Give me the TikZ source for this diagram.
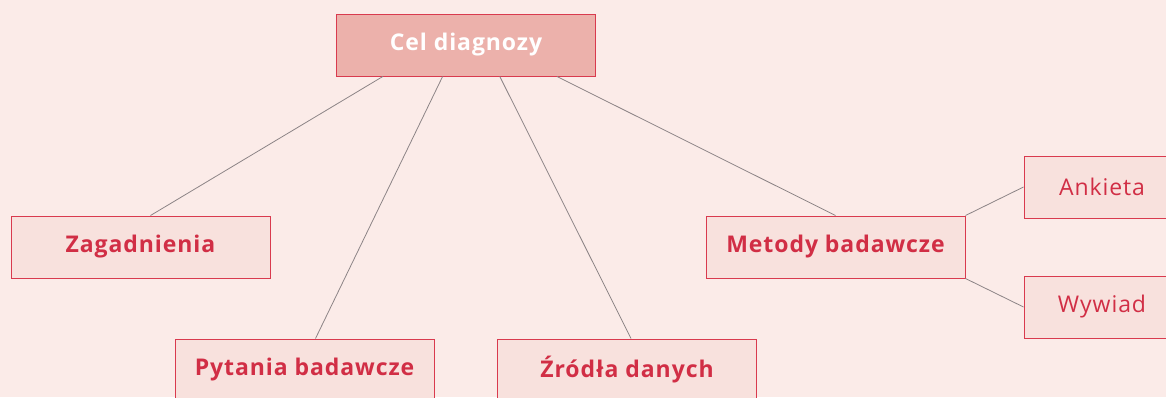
\documentclass[tikz,border=0pt]{standalone}
\usepackage{fontspec}
\setmainfont{Open Sans}[LetterSpace=4]
\usetikzlibrary{calc}
\definecolor{bgpink}{HTML}{FBEBE8}
\definecolor{boxfill}{HTML}{F8E1DD}
\definecolor{rootfill}{HTML}{ECB1AB}
\definecolor{edgered}{HTML}{D93A4E}
\definecolor{textred}{HTML}{D12E45}
\definecolor{linkgray}{HTML}{8C8486}
\begin{document}
\begin{tikzpicture}[x=1pt,y=-1pt,
        box/.style={draw=edgered,fill=boxfill,line width=1pt,minimum width=259pt,minimum height=62pt,
            text=textred,font=\fontsize{23}{26}\selectfont\bfseries,inner sep=0pt},
        rootbox/.style={box,fill=rootfill,text=white},
        leaf/.style={box,minimum width=156pt,font=\fontsize{23}{26}\selectfont},
        link/.style={draw=linkgray,line width=0.8pt}]
    \fill[bgpink] (0,0) rectangle (1166,397);
    \clip (0,0) rectangle (1166,397);
    \node[rootbox] (cel) at (466,45) {Cel diagnozy};
    \node[box] (zag) at (140.5,247) {Zagadnienia};
    \node[box] (pyt) at (304.5,370) {Pytania badawcze};
    \node[box] (zrd) at (627,370) {Źródła danych};
    \node[box] (met) at (835.5,247) {Metody badawcze};
    \node[leaf] (ank) at (1102,187) {Ankieta};
    \node[leaf] (wyw) at (1102,307) {Wywiad};
    % lines from the main goal
    \draw[link] ($(cel.south west)!0.18!(cel.south east)$) -- ([xshift=10pt]zag.north);
    \draw[link] ($(cel.south west)!0.41!(cel.south east)$) -- ([xshift=11pt]pyt.north);
    \draw[link] ($(cel.south west)!0.63!(cel.south east)$) -- ([xshift=4pt]zrd.north);
    \draw[link] ($(cel.south west)!0.85!(cel.south east)$) -- (met.north);
    % methods
    \draw[link] (met.north east) -- (ank.west);
    \draw[link] (met.south east) -- (wyw.west);
\end{tikzpicture}
\end{document}
